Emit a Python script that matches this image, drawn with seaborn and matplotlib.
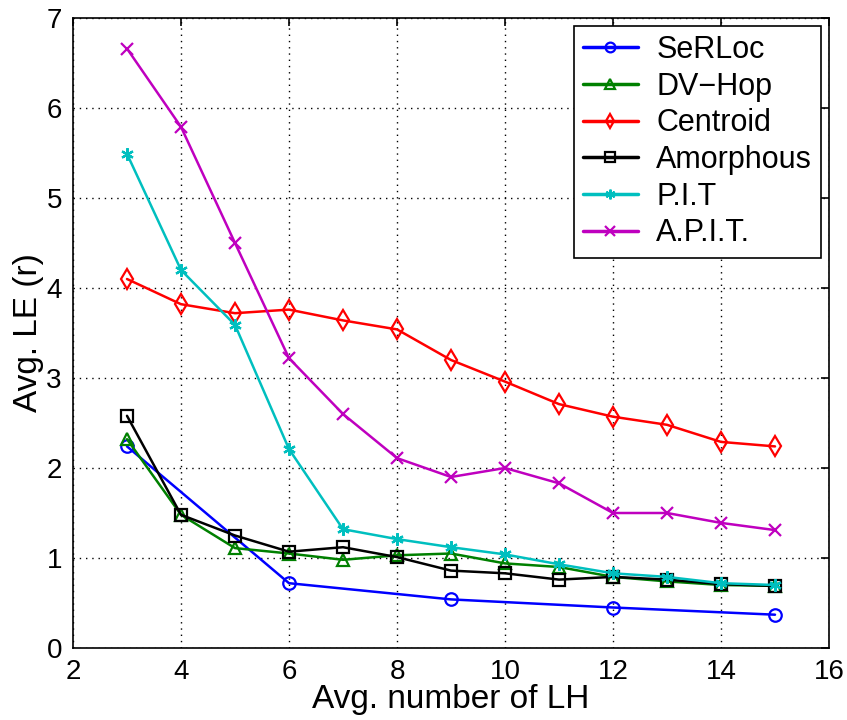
import numpy as np
import pandas as pd
import matplotlib
matplotlib.use('Agg')
import matplotlib.pyplot as plt
import seaborn as sns

# Values
x_all = [3, 4, 5, 6, 7, 8, 9, 10, 11, 12, 13, 14, 15]
x_serloc = [3, 6, 9, 12, 15]

serloc = [2.24, 0.72, 0.54, 0.45, 0.37]
dvhop = [2.32, 1.48, 1.11, 1.05, 0.98, 1.03, 1.05, 0.94, 0.90, 0.79, 0.74, 0.70, 0.69]
centroid = [4.10, 3.82, 3.72, 3.76, 3.64, 3.54, 3.20, 2.96, 2.71, 2.57, 2.48, 2.29, 2.24]
amorphous = [2.58, 1.48, 1.25, 1.07, 1.12, 1.01, 0.86, 0.83, 0.76, 0.79, 0.76, 0.71, 0.69]
pit = [5.49, 4.20, 3.59, 2.21, 1.32, 1.21, 1.12, 1.04, 0.93, 0.83, 0.79, 0.72, 0.70]
apit = [6.66, 5.79, 4.50, 3.22, 2.60, 2.11, 1.90, 2.00, 1.83, 1.50, 1.50, 1.39, 1.31]

names = ['SeRLoc', 'DV\u2212Hop', 'Centroid', 'Amorphous', 'P.I.T', 'A.P.I.T.']
colors = ['#0000ff', '#008000', '#ff0000', '#000000', '#00bfbf', '#bf00bf']
markers = ['o', '^', 'd', 's', (6, 2, 0), 'x']

sns.set_style('white')
plt.rcParams['font.family'] = ['Liberation Sans', 'DejaVu Sans']
plt.rcParams['text.color'] = 'black'
plt.rcParams['axes.labelcolor'] = 'black'
plt.rcParams['xtick.color'] = 'black'
plt.rcParams['ytick.color'] = 'black'

fig = plt.figure(figsize=(8.47, 7.2), dpi=100)
ax = fig.add_axes([73 / 847, 72 / 720, 756 / 847, 630 / 720])

series = [(x_serloc, serloc), (x_all, dvhop), (x_all, centroid),
          (x_all, amorphous), (x_all, pit), (x_all, apit)]
for (xs, ys), name, c, m in zip(series, names, colors, markers):
    msize = 10 if m == 'd' else 9
    sns.lineplot(x=xs, y=ys, ax=ax, color=c, marker=m, markersize=msize,
                 markerfacecolor='none', markeredgecolor=c, markeredgewidth=1.6,
                 linewidth=1.8, label=name)

ax.set_xlim(2, 16)
ax.set_ylim(0, 7)
ax.set_xticks(range(2, 17, 2))
ax.set_yticks(range(0, 8))
ax.grid(True, color='black', linestyle=(0, (1, 3.5)), linewidth=1.0)
ax.tick_params(direction='in', length=6, width=1.2, labelsize=20,
               top=True, right=True, pad=8)
for s in ax.spines.values():
    s.set_color('black')
    s.set_linewidth(1.2)
ax.set_xlabel('Avg. number of LH', fontsize=24, labelpad=-1)
ax.set_ylabel('Avg. LE (r)', fontsize=24, labelpad=2)

leg = ax.legend(loc='upper right', fontsize=22, frameon=True, fancybox=False,
                edgecolor='black', framealpha=1, handlelength=1.8,
                borderaxespad=0.25, labelspacing=0.22, handletextpad=0.6,
                borderpad=0.3)
leg.get_frame().set_linewidth(1.2)
for h in leg.legend_handles:
    h.set_markersize(7)
    h.set_linewidth(2.5)

fig.savefig('out.png', dpi=100)
